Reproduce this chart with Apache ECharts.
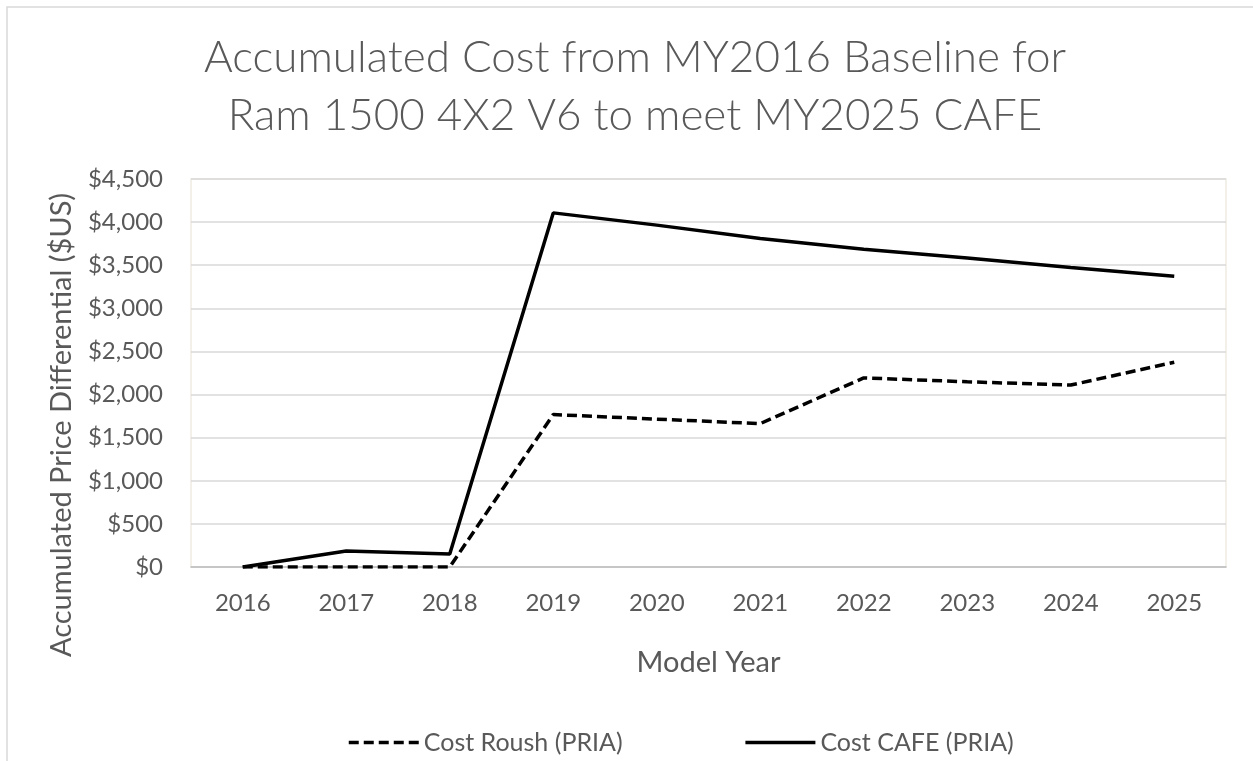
<!DOCTYPE html>
<html>
<head>
<meta charset="utf-8">
<script src="https://cdn.jsdelivr.net/npm/echarts@6/dist/echarts.min.js"></script>
<style>
  html, body { margin: 0; padding: 0; background: #fff; }
  #main { width: 1253px; height: 761px; }
</style>
</head>
<body>
<div id="main"></div>
<script>
var years = ['2016', '2017', '2018', '2019', '2020', '2021', '2022', '2023', '2024', '2025']
var costRoush = [0, 0, 0, 1768, 1715, 1663, 2193, 2148, 2110, 2375]
var costCafe = [0, 186, 150, 4107, 3965, 3809, 3686, 3583, 3473, 3372]
var seriesNames = ['Cost Roush (PRIA)', 'Cost CAFE (PRIA)']

var font = 'Lato, "Open Sans", sans-serif'
var textGrey = '#595959'

var myChart = echarts.init(document.getElementById('main'))
let option = {
    backgroundColor: '#fff',
    textStyle: { fontFamily: font },
    title: {
        text: 'Accumulated Cost from MY2016 Baseline for\nRam 1500 4X2 V6 to meet MY2025 CAFE',
        left: 630,
        top: 24,
        textAlign: 'center',
        textStyle: {
            fontFamily: font,
            fontSize: 44,
            fontWeight: 300,
            color: textGrey,
            lineHeight: 58
        }
    },
    graphic: [
        {
            type: 'rect',
            shape: { x: 7, y: 7, width: 1400, height: 900 },
            style: { fill: 'none', stroke: '#d9d9d9', lineWidth: 1.5 },
            silent: true
        },
        {
            type: 'text',
            x: 62,
            y: 425,
            rotation: Math.PI / 2,
            style: {
                text: 'Accumulated Price Differential ($US)',
                font: '29px ' + font,
                fill: textGrey,
                align: 'center',
                verticalAlign: 'middle'
            }
        }
    ],
    legend: {
        left: 342,
        top: 725,
        itemWidth: 70,
        itemHeight: 14,
        itemGap: 121,
        data: seriesNames,
        itemStyle: { opacity: 0 },
        lineStyle: { width: 3.5 },
        textStyle: { fontFamily: font, fontSize: 25, color: textGrey }
    },
    grid: {
        left: 191,
        right: 27,
        top: 179,
        bottom: 194,
        show: true,
        borderColor: '#efece2',
        borderWidth: 1.5,
        containLabel: false
    },
    xAxis: {
        type: 'category',
        data: years,
        boundaryGap: true,
        name: 'Model Year',
        nameLocation: 'middle',
        nameGap: 81,
        nameTextStyle: { fontFamily: font, fontSize: 29, color: textGrey },
        axisLine: { lineStyle: { color: '#bfbfbf', width: 1.5 } },
        axisTick: { alignWithLabel: true, inside: true, length: 6, lineStyle: { color: '#bfbfbf' } },
        axisLabel: { fontFamily: font, fontSize: 24, color: textGrey, margin: 24 }
    },
    yAxis: {
        type: 'value',
        min: 0,
        max: 4500,
        interval: 500,
        axisLine: { show: false },
        axisTick: { show: false },
        splitLine: { lineStyle: { color: '#d9d9d9', width: 1.5 } },
        axisLabel: {
            fontFamily: font,
            fontSize: 24,
            color: textGrey,
            margin: 28,
            formatter: function (v) {
                return '$' + v.toLocaleString('en-US')
            }
        }
    },
    series: [
        {
            name: seriesNames[0],
            type: 'line',
            data: costRoush,
            symbol: 'none',
            lineStyle: { color: '#000', width: 3.5, type: [10, 5] },
            itemStyle: { color: '#000' }
        },
        {
            name: seriesNames[1],
            type: 'line',
            data: costCafe,
            symbol: 'none',
            lineStyle: { color: '#000', width: 3.5, type: 'solid' },
            itemStyle: { color: '#000' }
        }
    ]
}
myChart.setOption(option)
</script>
</body>
</html>
